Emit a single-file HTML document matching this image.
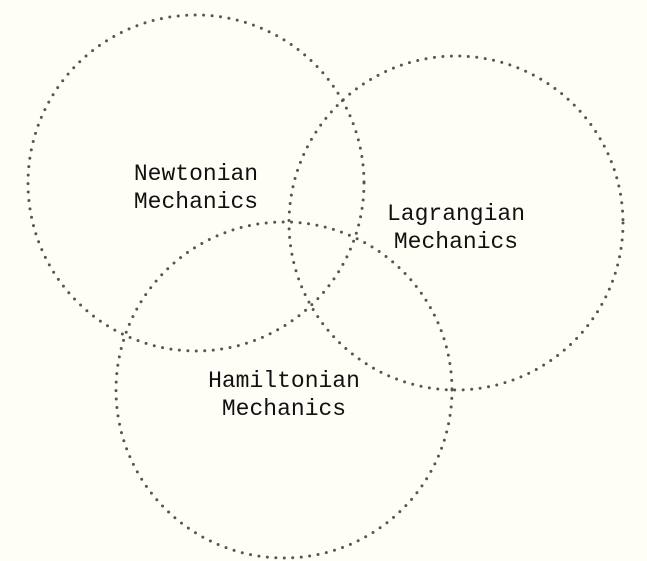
<!DOCTYPE html>
<html><head><meta charset="utf-8"><style>
html,body{margin:0;padding:0;background:#fffef6;}
svg{display:block}
text{font-family:"Liberation Mono","DejaVu Sans Mono",monospace;font-size:23px;fill:#111;text-anchor:middle}
</style></head><body>
<svg width="647" height="561">
<rect width="647" height="561" fill="#fffef6"/>
<g id="g"></g>
</svg>
<script>
const labels=[["Newtonian","Mechanics"],["Lagrangian","Mechanics"],["Hamiltonian","Mechanics"]];
const cx=[196,456,284];
const cy=[183,223,390];
const radii=[168,167,168];
const labelY=[172,212,379];
const names=["newtonian","lagrangian","hamiltonian"];
const g=document.getElementById('g');
const ns="http://www.w3.org/2000/svg";
for(let i=0;i<3;i++){
  const c=document.createElementNS(ns,'circle');
  c.setAttribute('cx',cx[i]);c.setAttribute('cy',cy[i]);c.setAttribute('r',radii[i]);
  c.setAttribute('fill','none');c.setAttribute('stroke','#555');c.setAttribute('stroke-width','3');
  c.setAttribute('stroke-dasharray','0 8.5');c.setAttribute('stroke-linecap','round');
  
  
  g.appendChild(c);
  for(let j=0;j<2;j++){
    const t=document.createElementNS(ns,'text');
    t.setAttribute('x',cx[i]);t.setAttribute('y',labelY[i]+j*28+8);
    t.textContent=labels[i][j];
    
    
    g.appendChild(t);
  }
}
</script>
</body></html>
